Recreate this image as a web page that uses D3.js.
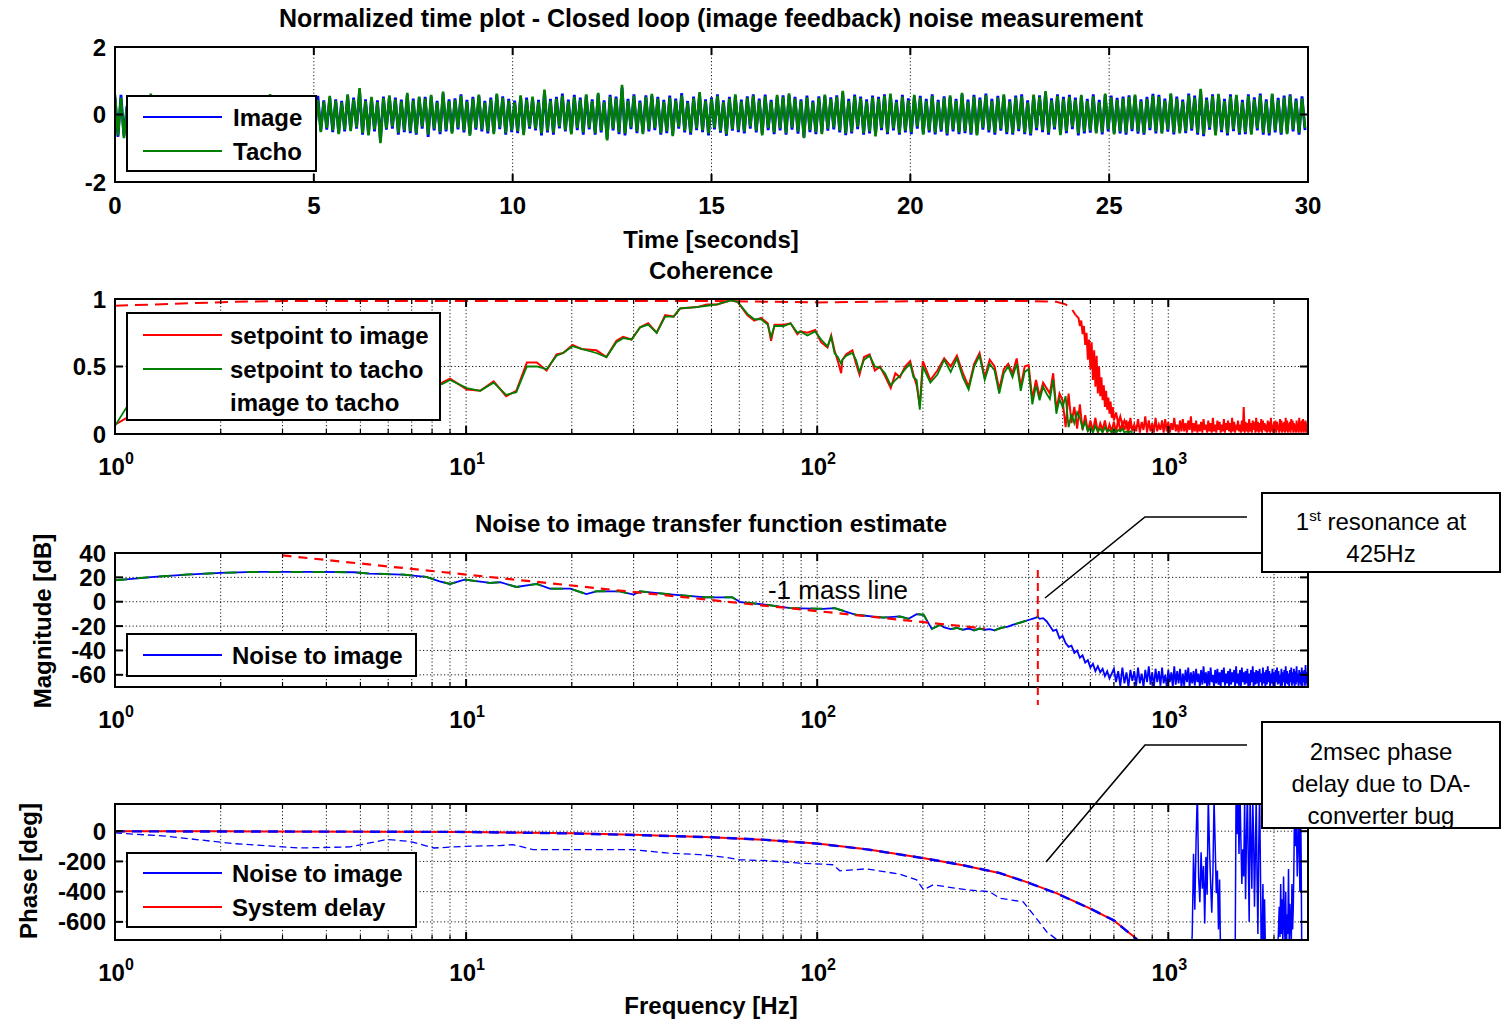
<!DOCTYPE html>
<html><head><meta charset="utf-8">
<script src="https://cdn.jsdelivr.net/npm/d3@7"></script>
<style>body{margin:0;background:#fff}svg text{font-family:Arial,"Liberation Sans",Helvetica,sans-serif}</style>
</head><body>
<script>
// ---------------- DATA ----------------
// Time plot (normalized), sampled every timeStep seconds
const timeStep = 0.075;
const timeTicks = [0,5,10,15,20,25,30];
const timeYTicks = [-2,0,2];
const tachoSignal = [
.58,-.62,.5,-.7,.22,-.18,.27,-.24,.31,-.15,.2,-.27,.62,-.2,.25,-.22,.18,-.3,.36,-.17,
.24,-.21,.29,-.26,.44,-.2,.31,-.25,.19,-.28,.33,-.19,.26,-.3,.52,-.24,.21,-.18,.28,-.26,
.37,-.22,.27,-.31,.23,-.2,.41,-.25,.3,-.28,.22,-.21,.6,-.3,.26,-.23,.35,-.29,.21,-.27,
.3,-.24,.42,-.32,.28,-.38,.5,-.46,.43,-.52,.38,-.4,.55,-.47,.41,-.58,.36,-.45,.6,-.49,
.45,-.38,.78,-.55,.4,-.62,.52,-.44,.37,-.85,.49,-.41,.57,-.36,.45,-.54,.39,-.47,.64,-.5,
.42,-.56,.53,-.37,.47,-.6,.58,-.42,.36,-.52,.68,-.45,.4,-.57,.43,-.39,.55,-.48,.38,-.63,
.47,-.4,.59,-.44,.35,-.5,.45,-.58,.62,-.38,.49,-.55,.41,-.47,.36,-.49,.57,-.61,.44,-.37,
.53,-.42,.38,-.56,.74,-.48,.41,-.54,.47,-.36,.56,-.46,.39,-.59,.52,-.4,.45,-.53,.6,-.39,
.4,-.55,.64,-.48,.37,-.77,.53,-.42,.48,-.52,.88,-.56,.41,-.38,.55,-.5,.36,-.58,.52,-.44,
.61,-.4,.47,-.55,.38,-.49,.5,-.64,.42,-.37,.57,-.48,.35,-.54,.48,-.41,.66,-.47,.4,-.56,
.46,-.39,.55,-.49,.37,-.58,.47,-.43,.6,-.46,.39,-.5,.49,-.36,.56,-.48,.42,-.62,.54,-.4,
.38,-.53,.58,-.41,.52,-.55,.63,-.39,.47,-.51,.4,-.7,.5,-.46,.36,-.52,.49,-.58,.59,-.42,
.46,-.38,.52,-.48,.7,-.56,.4,-.51,.54,-.37,.48,-.55,.39,-.5,.51,-.65,.47,-.4,.55,-.53,
.62,-.41,.37,-.55,.53,-.48,.42,-.52,.58,-.36,.5,-.6,.4,-.47,.55,-.54,.38,-.45,.49,-.57,
.57,-.44,.41,-.53,.64,-.49,.38,-.55,.53,-.62,.45,-.39,.57,-.47,.4,-.54,.5,-.42,.6,-.52,
.39,-.55,.51,-.43,.54,-.53,.36,-.57,.59,-.4,.52,-.46,.69,-.54,.42,-.38,.55,-.61,.46,-.49,
.53,-.37,.44,-.56,.58,-.5,.4,-.48,.54,-.56,.37,-.53,.62,-.44,.51,-.59,.43,-.5,.48,-.54,
.52,-.43,.59,-.51,.39,-.55,.46,-.4,.56,-.5,.53,-.57,.41,-.45,.63,-.53,.47,-.56,.38,-.49,
.57,-.42,.5,-.54,.76,-.58,.44,-.39,.55,-.62,.61,-.46,.4,-.56,.54,-.43,.58,-.55,.37,-.52,
.55,-.6,.45,-.41,.57,-.54,.39,-.56,.62,-.47,.43,-.55,.5,-.58,.56,-.44,.41,-.54,.48,-.4];
const imageSignal = [
.5,-.66,.58,-.63,.25,-.2,.22,-.28,.27,-.19,.24,-.22,.5,-.25,.3,-.19,.22,-.26,.55,-.2,
.2,-.25,.33,-.22,.4,-.24,.27,-.3,.23,-.24,.3,-.23,.29,-.26,.47,-.28,.25,-.22,.24,-.3,
.32,-.26,.24,-.27,.28,-.24,.36,-.29,.27,-.25,.26,-.24,.5,-.27,.3,-.26,.31,-.25,.25,-.3,
.27,-.28,.38,-.36,.33,-.42,.46,-.5,.55,-.48,.42,-.45,.5,-.52,.45,-.55,.4,-.5,.56,-.45,
.5,-.42,.7,-.6,.45,-.58,.48,-.5,.42,-.78,.53,-.45,.52,-.42,.5,-.6,.44,-.52,.58,-.55,
.47,-.6,.5,-.42,.52,-.66,.54,-.47,.4,-.58,.62,-.5,.45,-.52,.48,-.44,.6,-.53,.43,-.58,
.52,-.45,.55,-.5,.4,-.56,.5,-.53,.58,-.43,.54,-.6,.46,-.52,.41,-.55,.53,-.56,.5,-.42,
.48,-.47,.43,-.62,.68,-.53,.46,-.6,.52,-.41,.62,-.5,.44,-.55,.58,-.46,.5,-.6,.56,-.44,
.45,-.6,.6,-.53,.42,-.72,.58,-.47,.53,-.58,.8,-.62,.46,-.43,.6,-.55,.41,-.53,.57,-.5,
.56,-.46,.52,-.6,.43,-.55,.56,-.6,.47,-.42,.63,-.53,.4,-.6,.53,-.46,.6,-.52,.45,-.62,
.51,-.44,.6,-.54,.42,-.63,.52,-.48,.55,-.52,.44,-.56,.54,-.42,.6,-.53,.47,-.57,.59,-.46,
.43,-.58,.53,-.47,.57,-.6,.58,-.45,.52,-.57,.45,-.66,.56,-.52,.41,-.58,.54,-.53,.55,-.48,
.51,-.44,.57,-.53,.65,-.61,.46,-.56,.59,-.43,.53,-.6,.45,-.56,.56,-.6,.52,-.46,.6,-.58,
.57,-.47,.43,-.6,.58,-.53,.48,-.58,.53,-.42,.55,-.56,.46,-.53,.6,-.59,.43,-.51,.54,-.62,
.52,-.5,.46,-.58,.6,-.55,.44,-.6,.58,-.58,.5,-.45,.62,-.53,.46,-.6,.55,-.48,.56,-.58,
.45,-.6,.56,-.49,.6,-.58,.42,-.62,.55,-.46,.57,-.52,.64,-.6,.48,-.44,.6,-.57,.52,-.55,
.58,-.43,.5,-.62,.54,-.56,.46,-.54,.6,-.52,.43,-.59,.58,-.5,.56,-.55,.49,-.56,.53,-.6,
.57,-.49,.55,-.57,.45,-.6,.52,-.46,.61,-.56,.58,-.53,.47,-.51,.6,-.59,.53,-.5,.44,-.55,
.62,-.48,.56,-.6,.7,-.64,.5,-.45,.6,-.58,.57,-.52,.46,-.62,.6,-.49,.54,-.6,.43,-.58,
.6,-.56,.51,-.47,.62,-.6,.45,-.62,.58,-.53,.49,-.6,.56,-.54,.6,-.5,.47,-.6,.54,-.46];

// Frequency axes
const freqDecades = [1,10,100,1000];
const cohYTicks = [0,0.5,1];
const magYTicks = [-60,-40,-20,0,20,40];
const phaseYTicks = [-600,-400,-200,0];

// Coherence (low frequency part, read point by point)
const cohFreqLo = [1,1.08,1.3,1.8,2.5,3.5,5,6.5,8,8.54,9,10.05,10.97,11.98,13,13.9,14.9,15.9,16.95,18.1,18.9,20.1,21.3,23.5,25.1,26.8,28,29.6,31.3,33,34.9,36.9,39,40.7,45.4,48.5,51.9,56.7,59.3,63.3,66.2,69.2,72.3,73.9,75.6,80.3,84,87.8,89.5,93.8,98.7,102.6,107,109.6,112,114.5,117,118,121,126,129,132,136,141,146,151,156,162,167,172,178,184,188,192,196];
const cohSetImgLo = [.07,.12,.2,.26,.3,.34,.33,.36,.35,.38,.41,.33,.32,.39,.28,.32,.53,.53,.47,.59,.6,.66,.63,.62,.57,.69,.72,.7,.79,.82,.75,.88,.87,.93,.94,.96,.96,.99,.98,.88,.84,.86,.82,.69,.81,.81,.82,.74,.76,.75,.77,.68,.64,.73,.62,.54,.45,.55,.59,.62,.52,.44,.57,.59,.47,.5,.43,.34,.45,.42,.5,.54,.44,.36,.21];
const cohSetTachLo = [.06,.2,.22,.25,.31,.33,.34,.35,.36,.37,.4,.34,.32,.38,.29,.31,.5,.5,.48,.58,.6,.65,.63,.6,.57,.68,.71,.7,.79,.81,.75,.87,.87,.93,.94,.95,.96,.99,.98,.89,.85,.85,.81,.72,.8,.8,.82,.75,.76,.73,.76,.7,.65,.72,.6,.57,.52,.55,.58,.6,.55,.46,.55,.58,.5,.49,.45,.36,.4,.43,.48,.52,.42,.4,.18];
// Coherence high-frequency part, FFT bins from cohBinStart every cohBinStep Hz
const cohBinStart = 200, cohBinStep = 10;
const cohSetImgBins = [
.54,.4,.47,.56,.5,.58,.45,.35,.52,.6,
.42,.55,.5,.33,.48,.52,.45,.56,.35,.5,
.51,.26,.4,.28,.38,.34,.3,.45,.18,.3,
.25,.05,.3,.08,.2,.04,.22,.03,.14,.02,
.1,.02,.12,.01,.08,.03,.1,.01,.07,.02,
.09,.01,.11,.02,.08,.03,.1,.01,.12,.02,
.07,.02,.11,.01,.09,.03,.13,.01,.1,.02,
.08,.01,.12,.02,.07,.03,.1,.01,.11,.02,
.09,.01,.08,.03,.12,.02,.07,.01,.1,.02,
.11,.02,.08,.01,.1,.03,.13,.01,.08,.02,
.1,.01,.07,.02,.09,.01,.11,.03,.07,.01,
.1,.02,.08,.01,.12,.02,.07,.01,.1,.03,
.09,.01,.07,.02,.11,.01,.08,.03,.1,.02,
.08,.01,.12,.02,.09,.01,.07,.03,.1,.02,
.07,.01,.1,.02,.2,.01,.09,.02,.08,.01,
.11,.02,.08,.01,.1,.03,.09,.01,.12,.02,
.09,.01,.08,.02,.11,.01,.1,.03,.08,.02,
.07,.01,.1,.02,.09,.01,.12,.02,.07,.01,
.09,.02,.1,.01,.09,.03,.07,.01,.11,.02,
.1,.01,.08,.02,.09,.01,.12,.02,.1,.01,
.08,.02,.09,.01,.11,.03,.1,.01,.08,.02,
.07,.01,.1,.02,.08,.01,.12,.02,.09,.01,
.1,.02,.11,.01,.09,.02,.1,.01,.08,.02,.09];
const cohSetTachBins = [
.5,.38,.44,.55,.46,.56,.42,.33,.5,.58,
.4,.52,.47,.3,.45,.5,.42,.52,.32,.46,
.48,.22,.36,.25,.35,.3,.26,.4,.15,.26,
.2,.28,.05,.15,.08,.16,.12,.04,.09,.02,
.05,.01,.06,.02,.04,.01,.05,.02,.03,.01,
.04,.01,.03,.02,.04,.01,.02,.01,.02,.01];
// Image to tacho coherence
const cohImgTachFreq = [1,1.3,1.7,2.2,3,5,10,20,50,100,200,400,480,510,530,545,
555,560,565,570,575,580,585,590,595,600,605,610,615,620,625,630,635,640,645,650,655,660,665,670,675,680,685,690,695,700,
710,720,730,740,750,760,770,780];
const cohImgTach = [.95,.96,.97,.98,.985,.985,.985,.985,.985,.975,.985,.985,.98,.96,.93,.88,
.86,.8,.84,.74,.8,.66,.75,.55,.7,.48,.68,.4,.62,.35,.58,.3,.5,.28,.42,.25,.36,.2,.32,.18,.27,.15,.24,.12,.2,.1,
.16,.08,.13,.06,.1,.05,.08,.04];

// Magnitude (dB): noise to image
const magFreq = [1,1.29,1.6,2,2.5,3.1,3.8,4.8,5.3,6.6,7.7,8.4,9,9.9,11.7,12.5,13.9,15.9,17.3,19.8,22,23.5,27.4,30,31.3,38.9,48.3,57.3,60.4,71.9,83.9,104,112,129,154,172,182,192,201,212,224,230,240,250,260,270,280,290,300,310,320,330,340,350,360,370,380,390,400,410,420,425,430,440,450,460,470,480,490,500,510,520,530,540,550,560,570,580,590,600,610,620,630,640,650,660,670,680,690];
const magDb = [17.6,20.4,22.3,23.7,24.5,24.5,24.5,24.2,23.1,22.3,20.4,16.8,14.6,18.2,15.4,16,12.1,14.6,10.7,10.7,6.3,8.5,8.5,5.8,8.5,5.8,3.6,3.6,-0.3,-2.5,-5.2,-5.8,-5.2,-10.7,-13,-12.1,-14,-10.2,-10.7,-22.3,-19,-21,-22.5,-21.5,-23,-22,-23.5,-22,-23,-22.5,-23.5,-22,-21,-20.5,-19,-18,-17,-16,-15,-14,-13,-12.5,-14,-13.5,-16,-20,-24,-23,-30,-28,-34,-37,-36,-42,-40,-46,-44,-50,-48,-54,-51,-57,-53,-58,-55,-61,-57,-63,-59];
const magBinStart = 700, magBinStep = 10;
const magDbBins = [
-55,-66,-57,-69,-54,-67,-58,-70,-56,-65,
-57,-69,-54,-67,-59,-70,-56,-66,-53,-68,
-58,-70,-55,-66,-57,-69,-54,-67,-60,-70,
-56,-66,-58,-70,-53,-68,-57,-67,-55,-70,
-59,-69,-56,-66,-54,-70,-58,-67,-57,-69,
-55,-66,-59,-70,-56,-68,-53,-67,-58,-70,
-57,-69,-54,-66,-60,-70,-56,-67,-55,-68,
-58,-70,-56,-66,-54,-69,-59,-67,-57,-70,
-55,-68,-58,-66,-56,-70,-53,-67,-59,-69,
-56,-70,-54,-66,-58,-68,-57,-67,-55,-70,
-59,-69,-56,-66,-53,-70,-58,-68,-56,-67,
-57,-70,-55,-66,-59,-69,-54,-67,-58,-70,
-56,-68,-53,-66,-57,-70,-59,-67,-55,-69,
-58,-70,-56,-66,-54,-68,-57,-67,-60,-70,
-55,-69,-58,-66,-56,-70,-53,-67,-57,-68,
-59,-70,-56,-66,-54,-69,-58,-67,-55,-70,
-57,-68,-53,-66,-59,-70,-56,-67,-58,-69,
-54,-70,-57,-66,-56,-69,-52,-67,-58,-70,-56];
// -1 mass line (dB)
const massLineFreq = [3,300];
const massLineDb = [38,-22];
const resonanceFreq = 425;

// Phase (deg)
const phaseFreq = [1,2,5,10,20,30,50,70,100,140,200,260,330,390,480,600,700,810,830];
const phaseNoiseToImage = [-1,-2,-3,-5,-15,-25,-40,-56,-82,-122,-178,-225,-276,-333,-411,-513,-590,-712,-735];
const phaseSystemDelay = [0,-1,-3,-5,-14,-24,-40,-57,-81,-121,-177,-226,-277,-332,-410,-512,-591,-710,-733];
const phaseAltFreq = [1,1.4,2.17,3.37,4.67,5.94,6.9,8.1,10,12.5,13.6,15.5,19.3,30,37.2,46.3,55,60,71.9,89,111,116,138,172,192,201,214,266,310,331,386,414,451,480];
const phaseAlt = [-11,-33,-82,-111,-104,-55,-67,-111,-100,-95,-89,-122,-122,-122,-144,-155,-173,-189,-195,-211,-222,-262,-249,-284,-322,-388,-355,-388,-400,-444,-467,-555,-667,-715];
const phaseBinStart = 1100, phaseBinStep = 10;
const phaseBins = [
-900,-900,-900,-900,-900,-900,-900,
-680,-150,-520,-60,260,-300,-470,-140,-380,-230,-610,-170,-420,230,-110,-340,-540,-270,210,-90,-410,-260,-650,-320,
-900,-900,-900,-900,-900,-900,-900,-900,-900,-900,-900,-900,-900,-900,-900,
300,-20,250,-150,280,-60,-350,-120,-300,220,-450,-50,260,-200,-600,240,-80,-380,210,-40,-500,-150,230,-300,-680,-100,250,-250,-820,-700,-350,-800,-450,-760,-880,
-900,-900,-900,-900,-900,-900,-900,-900,-900,-900,-900,-900,-900,-900,
-800,-650,-500,-700,-350,-680,-450,-760,-300,-600,-720,-400,-800,-550,-680,-250,-720,-480,-600,-760,-350,-650,-500,-200,250,-100,200,-50,-300,-120,230,-60,-400,260,-150,-820,
-900,-900,-900,-900,-900,-900,-900,-900,-900,-900];

// ---------------- DRAWING ----------------
const BLUE='#0000ff', GREEN='#008000', RED='#ff0000';
const svg=d3.select('body').append('svg').attr('width',1502).attr('height',1022);
const defs=svg.append('defs');
const L=115, R=1308;

const xT=d3.scaleLinear().domain([0,30]).range([L,R]);
const xF=d3.scaleLog().domain([1,2500]).range([L,R]);
const yT=d3.scaleLinear().domain([-2,2]).range([182,47]);
const yC=d3.scaleLinear().domain([0,1]).range([434,299]);
const yM=d3.scaleLinear().domain([-70,40]).range([687,553]);
const yP=d3.scaleLinear().domain([-720,180]).range([940,804]);

function logTickList(){const t=[];freqDecades.forEach(d=>{for(let k=1;k<=9;k++){const v=k*d;if(v<=2500)t.push({v,major:k===1});}});return t;}

function makePanel(id,xs,ys,xticks,yticks){
  const top=ys.range()[1], bottom=ys.range()[0];
  defs.append('clipPath').attr('id','clip-'+id).append('rect').attr('x',L).attr('y',top).attr('width',R-L).attr('height',bottom-top);
  const g=svg.append('g');
  const grid=g.append('g').attr('stroke','#000').attr('stroke-width',0.9).attr('stroke-dasharray','1.2,2.3');
  xticks.forEach(t=>{const x=xs(t.v); if(x>L+2&&x<R-2) grid.append('line').attr('x1',x).attr('x2',x).attr('y1',top).attr('y2',bottom);});
  yticks.forEach(v=>{const y=ys(v); if(y>top+2&&y<bottom-2) grid.append('line').attr('x1',L).attr('x2',R).attr('y1',y).attr('y2',y);});
  const data=g.append('g').attr('clip-path','url(#clip-'+id+')');
  return {g,data,top,bottom,xs,ys,xticks,yticks};
}
function finishPanel(p){
  const a=p.g.append('g').attr('stroke','#000');
  p.xticks.forEach(t=>{const x=p.xs(t.v); const len=t.major?8:5, w=t.major?2:1.2;
    a.append('line').attr('x1',x).attr('x2',x).attr('y1',p.top).attr('y2',p.top+len).attr('stroke-width',w);
    a.append('line').attr('x1',x).attr('x2',x).attr('y1',p.bottom).attr('y2',p.bottom-len).attr('stroke-width',w);});
  p.yticks.forEach(v=>{const y=p.ys(v);
    a.append('line').attr('x1',L).attr('x2',L+8).attr('y1',y).attr('y2',y).attr('stroke-width',2);
    a.append('line').attr('x1',R).attr('x2',R-8).attr('y1',y).attr('y2',y).attr('stroke-width',2);});
  p.g.append('rect').attr('x',L).attr('y',p.top).attr('width',R-L).attr('height',p.bottom-p.top).attr('fill','none').attr('stroke','#000').attr('stroke-width',2);
}
function yLabels(p,fmt){
  p.yticks.forEach(v=>svg.append('text').attr('x',106).attr('y',p.ys(v)+8.5).attr('text-anchor','end')
    .attr('font-size',24).attr('font-weight','bold').text(fmt?fmt(v):v));
}
function logLabels(p){
  freqDecades.forEach((d,i)=>{const t=svg.append('text').attr('x',xF(d)+1).attr('y',p.bottom+41).attr('text-anchor','middle').attr('font-size',24).attr('font-weight','bold');
    t.append('tspan').text('10'); t.append('tspan').attr('dy',-11).attr('font-size',16).text(String(i));});
}
function boldText(x,y,s,anchor='middle',size=24){return svg.append('text').attr('x',x).attr('y',y).attr('text-anchor',anchor).attr('font-size',size).attr('font-weight','bold').text(s);}
function legend(x,y,w,h,items){
  svg.append('rect').attr('x',x).attr('y',y).attr('width',w).attr('height',h).attr('fill','#fff').attr('stroke','#000').attr('stroke-width',2);
  items.forEach(it=>{
    if(it.color) svg.append('line').attr('x1',143).attr('x2',222).attr('y1',it.y).attr('y2',it.y).attr('stroke',it.color).attr('stroke-width',2);
    boldText(it.tx||232,it.y+8.5,it.label,'start');
  });
}
const line=(xs,ys)=>d3.line().x(d=>xs(d[0])).y(d=>ys(d[1]));
const zip=(a,b)=>a.map((v,i)=>[v,b[i]]);
const bins=(start,step,vals)=>vals.map((v,i)=>[start+i*step,v]);

// ---- Panel 1: time plot
const p1=makePanel('t',xT,yT,timeTicks.map(v=>({v,major:true})),timeYTicks);
p1.data.append('path').datum(imageSignal.map((v,i)=>[i*timeStep,v])).attr('d',line(xT,yT)).attr('fill','none').attr('stroke',BLUE).attr('stroke-width',2.8);
p1.data.append('path').datum(tachoSignal.map((v,i)=>[i*timeStep,v])).attr('d',line(xT,yT)).attr('fill','none').attr('stroke',GREEN).attr('stroke-width',2.6);
finishPanel(p1);
yLabels(p1);
timeTicks.forEach(v=>boldText(xT(v),214,String(v)));
boldText(711,27,'Normalized time plot - Closed loop (image feedback) noise measurement','middle',25);
boldText(711,248,'Time [seconds]');
legend(127,96,189,75,[{y:117,color:BLUE,label:'Image',tx:233},{y:151,color:GREEN,label:'Tacho',tx:233}]);

// ---- Panel 2: coherence
const p2=makePanel('c',xF,yC,logTickList(),cohYTicks);
const itData=zip(cohImgTachFreq,cohImgTach);
p2.data.append('path').datum(itData.slice(0,16)).attr('d',line(xF,yC)).attr('fill','none').attr('stroke',RED).attr('stroke-width',2).attr('stroke-dasharray','13,7');
p2.data.append('path').datum(itData.slice(15)).attr('d',line(xF,yC)).attr('fill','none').attr('stroke',RED).attr('stroke-width',2);
p2.data.append('path').datum(zip(cohFreqLo,cohSetImgLo).concat(bins(cohBinStart,cohBinStep,cohSetImgBins))).attr('d',line(xF,yC)).attr('fill','none').attr('stroke',RED).attr('stroke-width',2);
p2.data.append('path').datum(zip(cohFreqLo,cohSetTachLo).concat(bins(cohBinStart,cohBinStep,cohSetTachBins))).attr('d',line(xF,yC)).attr('fill','none').attr('stroke',GREEN).attr('stroke-width',1.8);
finishPanel(p2);
yLabels(p2);
logLabels(p2);
boldText(711,279,'Coherence');
legend(127,313,313,107,[{y:335,color:RED,label:'setpoint to image',tx:230},{y:369,color:GREEN,label:'setpoint to tacho',tx:230},{y:402,label:'image to tacho',tx:230}]);

// ---- Panel 3: magnitude
const p3=makePanel('m',xF,yM,logTickList(),magYTicks);
const magData=zip(magFreq,magDb).concat(bins(magBinStart,magBinStep,magDbBins));
p3.data.append('path').datum(magData).attr('d',line(xF,yM)).attr('fill','none').attr('stroke',BLUE).attr('stroke-width',1.8);
p3.data.append('path').datum(zip(magFreq,magDb).slice(0,62)).attr('d',line(xF,yM)).attr('fill','none').attr('stroke',GREEN).attr('stroke-width',2).attr('stroke-dasharray','12,10');
p3.data.append('path').datum(zip(massLineFreq,massLineDb)).attr('d',line(xF,yM)).attr('fill','none').attr('stroke',RED).attr('stroke-width',2.2).attr('stroke-dasharray','9,7');
finishPanel(p3);
yLabels(p3);
logLabels(p3);
boldText(711,532,'Noise to image transfer function estimate');
svg.append('text').attr('transform','translate(51,621) rotate(-90)').attr('text-anchor','middle').attr('font-size',24).attr('font-weight','bold').text('Magnitude [dB]');
svg.append('text').attr('x',838).attr('y',599).attr('text-anchor','middle').attr('font-size',26).text('-1 mass line');
legend(127,634,289,42,[{y:655,color:BLUE,label:'Noise to image'}]);
svg.append('line').attr('x1',xF(resonanceFreq)).attr('x2',xF(resonanceFreq)).attr('y1',570).attr('y2',705).attr('stroke',RED).attr('stroke-width',2).attr('stroke-dasharray','8,5');

// ---- Panel 4: phase
const p4=makePanel('p',xF,yP,logTickList(),phaseYTicks);
p4.data.append('path').datum(bins(phaseBinStart,phaseBinStep,phaseBins)).attr('d',line(xF,yP)).attr('fill','none').attr('stroke',BLUE).attr('stroke-width',1.5);
p4.data.append('path').datum(zip(phaseAltFreq,phaseAlt)).attr('d',line(xF,yP)).attr('fill','none').attr('stroke',BLUE).attr('stroke-width',1.3).attr('stroke-dasharray','7,4');
p4.data.append('path').datum(zip(phaseFreq,phaseSystemDelay)).attr('d',line(xF,yP)).attr('fill','none').attr('stroke',RED).attr('stroke-width',2);
p4.data.append('path').datum(zip(phaseFreq,phaseNoiseToImage)).attr('d',line(xF,yP)).attr('fill','none').attr('stroke',BLUE).attr('stroke-width',2.4).attr('stroke-dasharray','10,7');
finishPanel(p4);
yLabels(p4);
logLabels(p4);
svg.append('text').attr('transform','translate(37,871) rotate(-90)').attr('text-anchor','middle').attr('font-size',24).attr('font-weight','bold').text('Phase [deg]');
boldText(711,1014,'Frequency [Hz]');
legend(127,853,289,74,[{y:873,color:BLUE,label:'Noise to image'},{y:907,color:RED,label:'System delay'}]);

// ---- Annotations
function callout(bx,by,bw,bh,lines,path){
  svg.append('path').attr('d',d3.line()(path)).attr('fill','none').attr('stroke','#000').attr('stroke-width',1.6);
  svg.append('rect').attr('x',bx).attr('y',by).attr('width',bw).attr('height',bh).attr('fill','#fff').attr('stroke','#000').attr('stroke-width',2);
  lines.forEach(l=>{const t=svg.append('text').attr('x',bx+bw/2).attr('y',l.y).attr('text-anchor','middle').attr('font-size',24);
    if(l.sup){t.append('tspan').text(l.pre);t.append('tspan').attr('dy',-9).attr('font-size',15).text(l.sup);t.append('tspan').attr('dy',9).text(l.post);}
    else t.text(l.text);});
}
callout(1262,493,238,79,[{y:530,pre:'1',sup:'st',post:' resonance at'},{y:562,text:'425Hz'}],[[1247,517],[1145,517],[1045,598]]);
callout(1262,722,238,106,[{y:760,text:'2msec phase'},{y:792,text:'delay due to DA-'},{y:824,text:'converter bug'}],[[1247,745],[1145,745],[1046,862]]);
</script>
</body></html>
